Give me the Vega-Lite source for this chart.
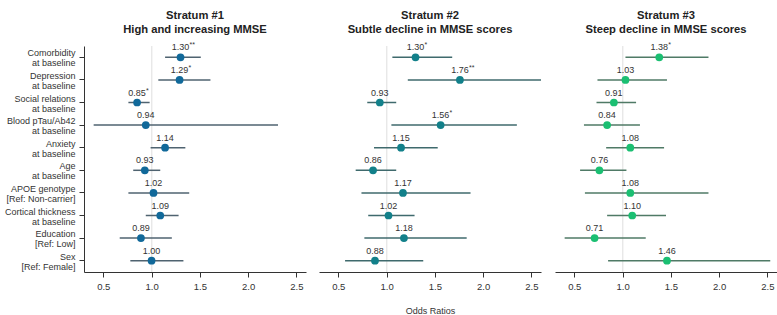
{
  "$schema": "https://vega.github.io/schema/vega-lite/v6.json",
  "background": "white",
  "padding": {"left": 4, "top": 10, "right": 0, "bottom": 0},
  "spacing": 13,
  "config": {
    "view": {"stroke": null},
    "font": "Liberation Sans",
    "title": {"fontSize": 11.2, "fontWeight": "bold", "color": "#222", "lineHeight": 14, "offset": 6, "anchor": "middle"},
    "axis": {"labelFont": "Liberation Sans", "titleFont": "Liberation Sans", "labelFontSize": 9.5, "labelColor": "#333", "domainColor": "#333", "tickColor": "#333", "grid": false, "titleFontWeight": "normal", "titleFontSize": 9, "titleColor": "#333"}
  },
  "data": {"values": [
    {"s": 1, "v": "Comorbidity|at baseline", "or": 1.30, "lo": 1.14, "hi": 1.51, "lab": "1.30", "st": "**"},
    {"s": 1, "v": "Depression|at baseline", "or": 1.29, "lo": 1.07, "hi": 1.61, "lab": "1.29", "st": "*"},
    {"s": 1, "v": "Social relations|at baseline", "or": 0.85, "lo": 0.76, "hi": 0.98, "lab": "0.85", "st": "*"},
    {"s": 1, "v": "Blood pTau/Ab42|at baseline", "or": 0.94, "lo": 0.40, "hi": 2.31, "lab": "0.94", "st": ""},
    {"s": 1, "v": "Anxiety|at baseline", "or": 1.14, "lo": 0.99, "hi": 1.35, "lab": "1.14", "st": ""},
    {"s": 1, "v": "Age|at baseline", "or": 0.93, "lo": 0.81, "hi": 1.09, "lab": "0.93", "st": ""},
    {"s": 1, "v": "APOE genotype|[Ref: Non-carrier]", "or": 1.02, "lo": 0.76, "hi": 1.39, "lab": "1.02", "st": ""},
    {"s": 1, "v": "Cortical thickness|at baseline", "or": 1.09, "lo": 0.94, "hi": 1.28, "lab": "1.09", "st": ""},
    {"s": 1, "v": "Education|[Ref: Low]", "or": 0.89, "lo": 0.67, "hi": 1.21, "lab": "0.89", "st": ""},
    {"s": 1, "v": "Sex|[Ref: Female]", "or": 1.00, "lo": 0.78, "hi": 1.33, "lab": "1.00", "st": ""},
    {"s": 2, "v": "Comorbidity|at baseline", "or": 1.30, "lo": 1.06, "hi": 1.68, "lab": "1.30", "st": "*"},
    {"s": 2, "v": "Depression|at baseline", "or": 1.76, "lo": 1.22, "hi": 2.60, "lab": "1.76", "st": "**"},
    {"s": 2, "v": "Social relations|at baseline", "or": 0.93, "lo": 0.80, "hi": 1.10, "lab": "0.93", "st": ""},
    {"s": 2, "v": "Blood pTau/Ab42|at baseline", "or": 1.56, "lo": 1.05, "hi": 2.35, "lab": "1.56", "st": "*"},
    {"s": 2, "v": "Anxiety|at baseline", "or": 1.15, "lo": 0.87, "hi": 1.53, "lab": "1.15", "st": ""},
    {"s": 2, "v": "Age|at baseline", "or": 0.86, "lo": 0.68, "hi": 1.10, "lab": "0.86", "st": ""},
    {"s": 2, "v": "APOE genotype|[Ref: Non-carrier]", "or": 1.17, "lo": 0.74, "hi": 1.87, "lab": "1.17", "st": ""},
    {"s": 2, "v": "Cortical thickness|at baseline", "or": 1.02, "lo": 0.81, "hi": 1.29, "lab": "1.02", "st": ""},
    {"s": 2, "v": "Education|[Ref: Low]", "or": 1.18, "lo": 0.77, "hi": 1.83, "lab": "1.18", "st": ""},
    {"s": 2, "v": "Sex|[Ref: Female]", "or": 0.88, "lo": 0.57, "hi": 1.38, "lab": "0.88", "st": ""},
    {"s": 3, "v": "Comorbidity|at baseline", "or": 1.38, "lo": 1.03, "hi": 1.89, "lab": "1.38", "st": "*"},
    {"s": 3, "v": "Depression|at baseline", "or": 1.03, "lo": 0.74, "hi": 1.46, "lab": "1.03", "st": ""},
    {"s": 3, "v": "Social relations|at baseline", "or": 0.91, "lo": 0.73, "hi": 1.14, "lab": "0.91", "st": ""},
    {"s": 3, "v": "Blood pTau/Ab42|at baseline", "or": 0.84, "lo": 0.60, "hi": 1.18, "lab": "0.84", "st": ""},
    {"s": 3, "v": "Anxiety|at baseline", "or": 1.08, "lo": 0.83, "hi": 1.43, "lab": "1.08", "st": ""},
    {"s": 3, "v": "Age|at baseline", "or": 0.76, "lo": 0.56, "hi": 1.04, "lab": "0.76", "st": ""},
    {"s": 3, "v": "APOE genotype|[Ref: Non-carrier]", "or": 1.08, "lo": 0.61, "hi": 1.89, "lab": "1.08", "st": ""},
    {"s": 3, "v": "Cortical thickness|at baseline", "or": 1.10, "lo": 0.84, "hi": 1.45, "lab": "1.10", "st": ""},
    {"s": 3, "v": "Education|[Ref: Low]", "or": 0.71, "lo": 0.40, "hi": 1.24, "lab": "0.71", "st": ""},
    {"s": 3, "v": "Sex|[Ref: Female]", "or": 1.46, "lo": 0.85, "hi": 2.53, "lab": "1.46", "st": ""}
  ]},
  "hconcat": [
    {
      "width": 222, "height": 226,
      "title": {"text": ["Stratum #1", "High and increasing MMSE"]},
      "transform": [{"filter": "datum.s == 1"}],
      "encoding": {
        "y": {"field": "v", "type": "nominal", "sort": null, "title": null,
          "scale": {"paddingInner": 0, "paddingOuter": 0},
          "axis": {"labelExpr": "split(datum.value, '|')", "labelFontSize": 9, "labelLineHeight": 10, "labelOffset": -4, "tickSize": 5, "labelPadding": 4}}
      },
      "layer": [
        {"mark": {"type": "rule", "color": "#e8e8e8", "strokeWidth": 1}, "encoding": {"x": {"datum": 1}, "y": null}},
        {"mark": {"type": "rule", "color": "#4f6370", "strokeWidth": 1.5},
          "encoding": {"x": {"field": "lo", "type": "quantitative", "title": null, "scale": {"domain": [0.3, 2.6], "nice": false, "zero": false}, "axis": {"values": [0.5, 1.0, 1.5, 2.0, 2.5], "format": ".1f", "tickSize": 5, "labelPadding": 4}}, "x2": {"field": "hi"}}},
        {"mark": {"type": "circle", "size": 60, "opacity": 1, "color": "#11699a"}, "encoding": {"x": {"field": "or", "type": "quantitative"}}},
        {"mark": {"type": "text", "dy": -10, "fontSize": 9, "color": "#333"}, "encoding": {"x": {"field": "or", "type": "quantitative"}, "text": {"field": "lab"}}},
        {"mark": {"type": "text", "dy": -12, "dx": 9, "align": "left", "fontSize": 7, "color": "#333"}, "encoding": {"x": {"field": "or", "type": "quantitative"}, "text": {"field": "st"}}}
      ]
    },
    {
      "width": 222, "height": 226,
      "title": {"text": ["Stratum #2", "Subtle decline in MMSE scores"]},
      "transform": [{"filter": "datum.s == 2"}],
      "encoding": {
        "y": {"field": "v", "type": "nominal", "sort": null, "title": null, "scale": {"paddingInner": 0, "paddingOuter": 0}, "axis": null}
      },
      "layer": [
        {"mark": {"type": "rule", "color": "#e8e8e8", "strokeWidth": 1}, "encoding": {"x": {"datum": 1}, "y": null}},
        {"mark": {"type": "rule", "color": "#3f6a6d", "strokeWidth": 1.5},
          "encoding": {"x": {"field": "lo", "type": "quantitative", "title": "Odds Ratios", "scale": {"domain": [0.3, 2.6], "nice": false, "zero": false}, "axis": {"values": [0.5, 1.0, 1.5, 2.0, 2.5], "format": ".1f", "tickSize": 5, "labelPadding": 4, "titlePadding": 16}}, "x2": {"field": "hi"}}},
        {"mark": {"type": "circle", "size": 60, "opacity": 1, "color": "#12808a"}, "encoding": {"x": {"field": "or", "type": "quantitative"}}},
        {"mark": {"type": "text", "dy": -10, "fontSize": 9, "color": "#333"}, "encoding": {"x": {"field": "or", "type": "quantitative"}, "text": {"field": "lab"}}},
        {"mark": {"type": "text", "dy": -12, "dx": 9, "align": "left", "fontSize": 7, "color": "#333"}, "encoding": {"x": {"field": "or", "type": "quantitative"}, "text": {"field": "st"}}}
      ]
    },
    {
      "width": 222, "height": 226,
      "title": {"text": ["Stratum #3", "Steep decline in MMSE scores"]},
      "transform": [{"filter": "datum.s == 3"}],
      "encoding": {
        "y": {"field": "v", "type": "nominal", "sort": null, "title": null, "scale": {"paddingInner": 0, "paddingOuter": 0}, "axis": null}
      },
      "layer": [
        {"mark": {"type": "rule", "color": "#e8e8e8", "strokeWidth": 1}, "encoding": {"x": {"datum": 1}, "y": null}},
        {"mark": {"type": "rule", "color": "#4f7a66", "strokeWidth": 1.5},
          "encoding": {"x": {"field": "lo", "type": "quantitative", "title": null, "scale": {"domain": [0.3, 2.6], "nice": false, "zero": false}, "axis": {"values": [0.5, 1.0, 1.5, 2.0, 2.5], "format": ".1f", "tickSize": 5, "labelPadding": 4}}, "x2": {"field": "hi"}}},
        {"mark": {"type": "circle", "size": 60, "opacity": 1, "color": "#1bbf72"}, "encoding": {"x": {"field": "or", "type": "quantitative"}}},
        {"mark": {"type": "text", "dy": -10, "fontSize": 9, "color": "#333"}, "encoding": {"x": {"field": "or", "type": "quantitative"}, "text": {"field": "lab"}}},
        {"mark": {"type": "text", "dy": -12, "dx": 9, "align": "left", "fontSize": 7, "color": "#333"}, "encoding": {"x": {"field": "or", "type": "quantitative"}, "text": {"field": "st"}}}
      ]
    }
  ]
}
